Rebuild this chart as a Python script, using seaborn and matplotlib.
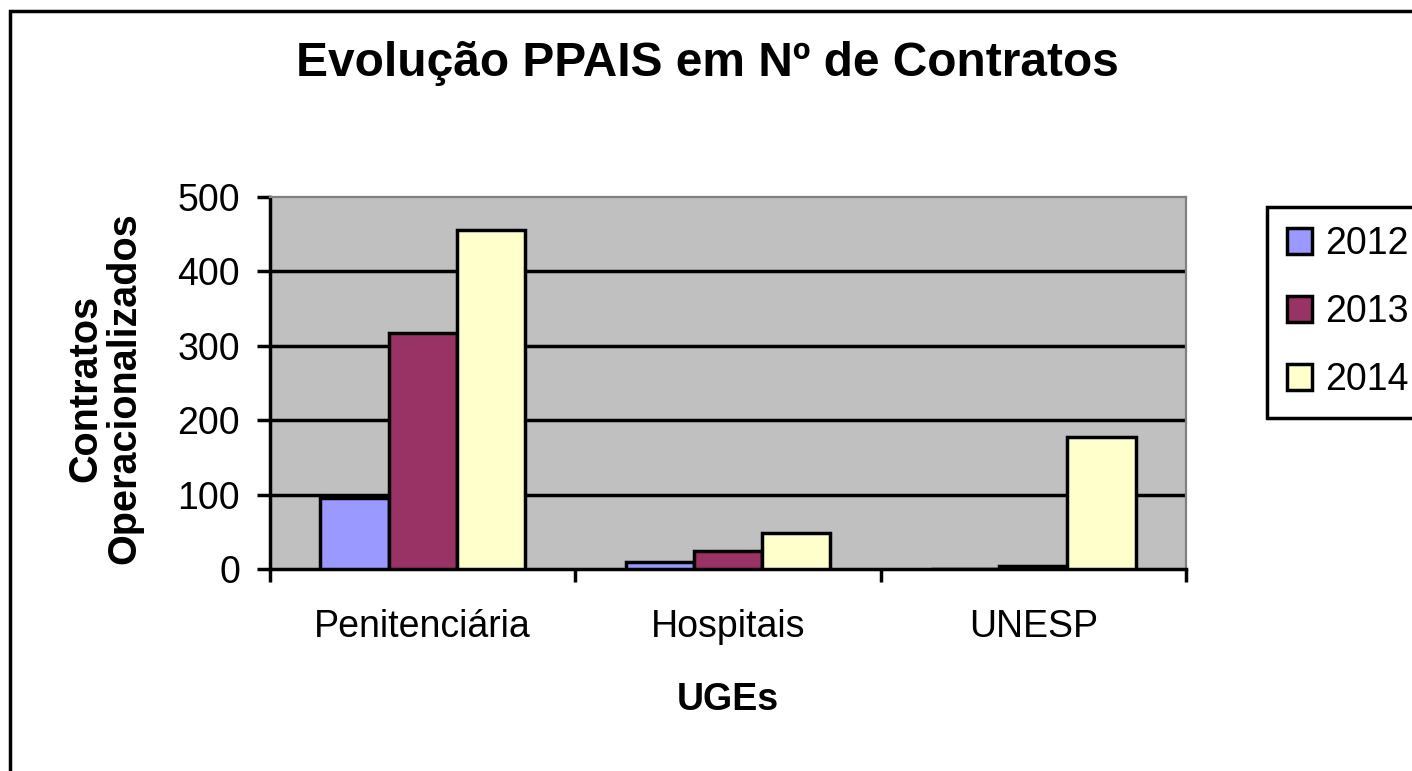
import matplotlib
matplotlib.use("Agg")
import matplotlib.pyplot as plt
import matplotlib.patches as mpatches
import seaborn as sns
import pandas as pd

categories = ["Penitenciária", "Hospitais", "UNESP"]
years = ["2012", "2013", "2014"]
v2012 = [96, 10, 0]
v2013 = [317, 24, 4]
v2014 = [456, 48, 178]
yticks = [0, 100, 200, 300, 400, 500]
colors = ["#9999FF", "#993366", "#FFFFCC"]

rows = []
for yr, vals in zip(years, [v2012, v2013, v2014]):
    for c, v in zip(categories, vals):
        rows.append({"UGE": c, "Ano": yr, "Contratos": v})
df = pd.DataFrame(rows)

sns.set_theme(style="white")
plt.rcParams['font.family'] = ['Liberation Sans', 'DejaVu Sans']
plt.rcParams['text.color'] = 'black'
plt.rcParams['axes.labelcolor'] = 'black'
plt.rcParams['xtick.color'] = 'black'
plt.rcParams['ytick.color'] = 'black'

W, H = 1412, 771
fig = plt.figure(figsize=(W / 100, H / 100), dpi=100)
fig.patch.set_facecolor("white")
ax = fig.add_axes([270 / W, (H - 569) / H, (1186 - 270) / W, (569 - 197) / H])
ax.set_facecolor("#C0C0C0")

lw = 2.5
sns.barplot(data=df, x="UGE", y="Contratos", hue="Ano", order=categories,
            hue_order=years, palette=colors, saturation=1, width=0.67,
            edgecolor="black", linewidth=lw, ax=ax, zorder=3)

ax.set_ylim(0, 500)
ax.set_xlim(-0.5, 2.5)
ax.set_yticks(yticks)
ax.set_yticklabels([str(t) for t in yticks], fontsize=27, color="black")
for t in yticks[1:-1]:
    ax.axhline(t, color="black", lw=lw, zorder=1)

# ticks at category boundaries, labels at centers
ax.set_xticks([-0.5, 0.5, 1.5, 2.5])
ax.set_xticklabels([])
ax.set_xticks([0, 1, 2], minor=True)
ax.set_xticklabels(categories, minor=True, fontsize=27, color="black")
ax.tick_params(axis="x", which="major", direction="out", length=9, width=lw,
               color="black", bottom=True)
ax.tick_params(axis="x", which="minor", length=0, pad=29)
ax.tick_params(axis="y", direction="out", length=9.5, width=lw, color="black",
               left=True, pad=12)
ax.set_xlabel("")
ax.set_ylabel("")

for s in ["left", "bottom"]:
    ax.spines[s].set_color("black")
    ax.spines[s].set_linewidth(lw)
for s in ["top", "right"]:
    ax.spines[s].set_color("#808080")
    ax.spines[s].set_linewidth(1.6)

handles, labels = ax.get_legend_handles_labels()
if ax.get_legend() is not None:
    ax.get_legend().remove()
leg = fig.legend(handles, labels, loc="upper left",
                 bbox_to_anchor=(1267 / W, (H - 207) / H),
                 fontsize=27, frameon=True, fancybox=False, framealpha=1,
                 handlelength=0.68, handleheight=0.68, handletextpad=0.35,
                 labelspacing=0.85, borderpad=0.52, borderaxespad=0)
leg.get_frame().set_edgecolor("black")
leg.get_frame().set_linewidth(lw)
leg.get_frame().set_facecolor("white")
for t in leg.get_texts():
    t.set_color("black")

fig.text(707 / W, (H - 64) / H, "Evolução PPAIS em Nº de Contratos",
         ha="center", va="center", fontsize=34.5, fontweight="bold",
         color="black")
fig.text(105 / W, (H - 388) / H, "Contratos\nOperacionalizados", rotation=90,
         ha="center", va="center", fontsize=28.5, fontweight="bold",
         linespacing=1.05, color="black")
fig.text(728 / W, (H - 700) / H, "UGEs", ha="center", va="center",
         fontsize=27, fontweight="bold", color="black")

frame = mpatches.Rectangle((9.5 / W, -0.2), 2.0, (H - 11) / H + 0.2,
                           transform=fig.transFigure, fill=False,
                           edgecolor="black", lw=lw, clip_on=False)
fig.patches.append(frame)

fig.savefig("out.png", dpi=100)
